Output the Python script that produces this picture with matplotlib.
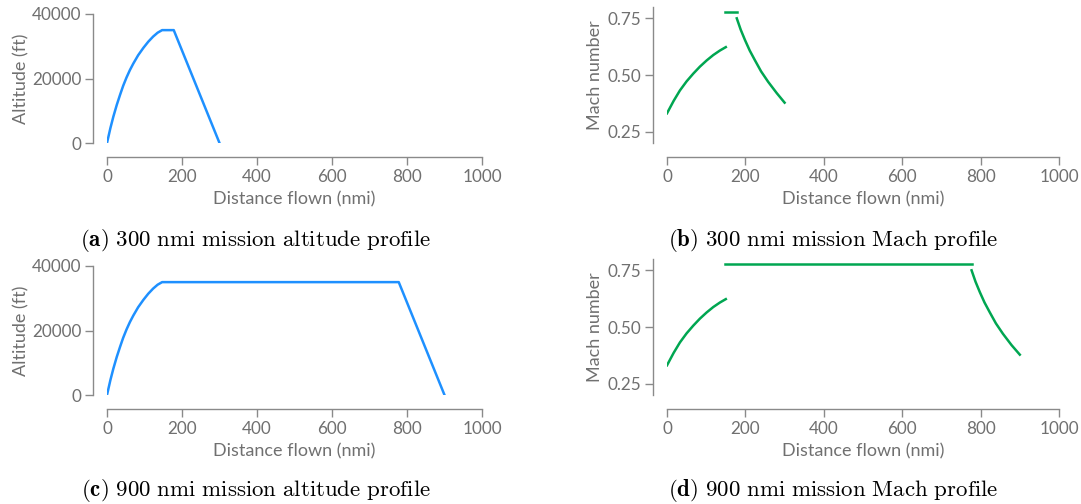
import matplotlib
matplotlib.use("Agg")
import matplotlib.pyplot as plt

plt.rcParams['font.family'] = ['Lato', 'DejaVu Sans']
plt.rcParams['mathtext.fontset'] = 'cm'

# ---- data ----
# 300 nmi mission
alt300_dist = [0, 9, 17, 26, 35, 43, 52, 61, 70, 83, 97, 110, 123, 135, 147, 178, 300]
alt300_alt = [0, 4600, 8200, 11800, 15000, 17700, 20300, 22600, 24600, 27200, 29500,
              31400, 33000, 34200, 35000, 35000, 0]
mach300_climb_dist = [0, 17, 33, 50, 67, 84, 101, 118, 135, 150]
mach300_climb = [0.331, 0.386, 0.432, 0.472, 0.506, 0.537, 0.564, 0.588, 0.608, 0.623]
mach300_cruise_dist = [147, 179]
mach300_cruise = [0.78, 0.78]
mach300_desc_dist = [178, 188, 199, 211, 224, 240, 258, 280, 300]
mach300_desc = [0.750, 0.700, 0.654, 0.608, 0.566, 0.516, 0.470, 0.420, 0.378]

# 900 nmi mission
alt900_dist = [0, 9, 17, 26, 35, 43, 52, 61, 70, 83, 97, 110, 123, 135, 147, 778, 900]
alt900_alt = [0, 4600, 8200, 11800, 15000, 17700, 20300, 22600, 24600, 27200, 29500,
              31400, 33000, 34200, 35000, 35000, 0]
mach900_climb_dist = [0, 17, 33, 50, 67, 84, 101, 118, 135, 150]
mach900_climb = [0.331, 0.386, 0.432, 0.472, 0.506, 0.537, 0.564, 0.588, 0.608, 0.623]
mach900_cruise_dist = [147, 779]
mach900_cruise = [0.78, 0.78]
mach900_desc_dist = [777, 787, 798, 810, 823, 839, 857, 879, 900]
mach900_desc = [0.750, 0.700, 0.654, 0.608, 0.566, 0.516, 0.470, 0.420, 0.378]

x_ticks = [0, 200, 400, 600, 800, 1000]
alt_ticks = [0, 20000, 40000]
mach_ticks = [0.25, 0.50, 0.75]
mach_labels = ['0.25', '0.50', '0.75']

captions = [r'$\mathbf{(a)}\ \mathrm{300\ nmi\ mission\ altitude\ profile}$',
            r'$\mathbf{(b)}\ \mathrm{300\ nmi\ mission\ Mach\ profile}$',
            r'$\mathbf{(c)}\ \mathrm{900\ nmi\ mission\ altitude\ profile}$',
            r'$\mathbf{(d)}\ \mathrm{900\ nmi\ mission\ Mach\ profile}$']

BLUE = '#1e90ff'
GREEN = '#00a651'
GRAY = '#707070'
SPINE = '#8a8a8a'
TFS = 12.3
LFS = 13

W, H = 1081, 504
fig = plt.figure(figsize=(W / 100, H / 100), dpi=100)


def box(l, r, t, b):
    return [l / W, 1 - b / H, (r - l) / W, (b - t) / H]


def style(ax):
    for s in ['top', 'right']:
        ax.spines[s].set_visible(False)
    for s in ['left', 'bottom']:
        ax.spines[s].set_position(('outward', 10))
        ax.spines[s].set_color(SPINE)
        ax.spines[s].set_linewidth(1.0)
    ax.tick_params(colors=SPINE, labelcolor=GRAY, labelsize=TFS, length=6, width=1.0, pad=2.5)
    ax.set_xlim(0, 1000)
    ax.set_xticks(x_ticks)
    ax.set_xlabel('Distance flown (nmi)', color=GRAY, fontsize=LFS, labelpad=5)


# (a)
axa = fig.add_axes(box(107, 482, 14, 143))
axa.plot(alt300_dist, alt300_alt, color=BLUE, lw=1.8)
axa.set_ylim(0, 40000)
axa.set_yticks(alt_ticks)
style(axa)
axa.set_ylabel('Altitude (ft)', color=GRAY, fontsize=LFS, labelpad=2)

# (b)
axb = fig.add_axes(box(667, 1059, 7, 143))
axb.plot(mach300_climb_dist, mach300_climb, color=GREEN, lw=1.8)
axb.plot(mach300_cruise_dist, mach300_cruise, color=GREEN, lw=1.8)
axb.plot(mach300_desc_dist, mach300_desc, color=GREEN, lw=1.8)
axb.set_ylim(0.2, 0.8)
axb.set_yticks(mach_ticks)
axb.set_yticklabels(mach_labels)
style(axb)
axb.set_ylabel('Mach number', color=GRAY, fontsize=LFS, labelpad=3.5)

# (c)
axc = fig.add_axes(box(107, 482, 266, 395))
axc.plot(alt900_dist, alt900_alt, color=BLUE, lw=1.8)
axc.set_ylim(0, 40000)
axc.set_yticks(alt_ticks)
style(axc)
axc.set_ylabel('Altitude (ft)', color=GRAY, fontsize=LFS, labelpad=2)

# (d)
axd = fig.add_axes(box(667, 1059, 259, 395))
axd.plot(mach900_climb_dist, mach900_climb, color=GREEN, lw=1.8)
axd.plot(mach900_cruise_dist, mach900_cruise, color=GREEN, lw=1.8)
axd.plot(mach900_desc_dist, mach900_desc, color=GREEN, lw=1.8)
axd.set_ylim(0.2, 0.8)
axd.set_yticks(mach_ticks)
axd.set_yticklabels(mach_labels)
style(axd)
axd.set_ylabel('Mach number', color=GRAY, fontsize=LFS, labelpad=3.5)

# captions
cap_pos = [(255.5, 240), (833, 240), (255.5, 490), (833, 490)]
for (cx, cy), txt in zip(cap_pos, captions):
    fig.text(cx / W, 1 - cy / H, txt, ha='center', va='center', fontsize=16.5, color='black')

fig.savefig('out.png', dpi=100)
